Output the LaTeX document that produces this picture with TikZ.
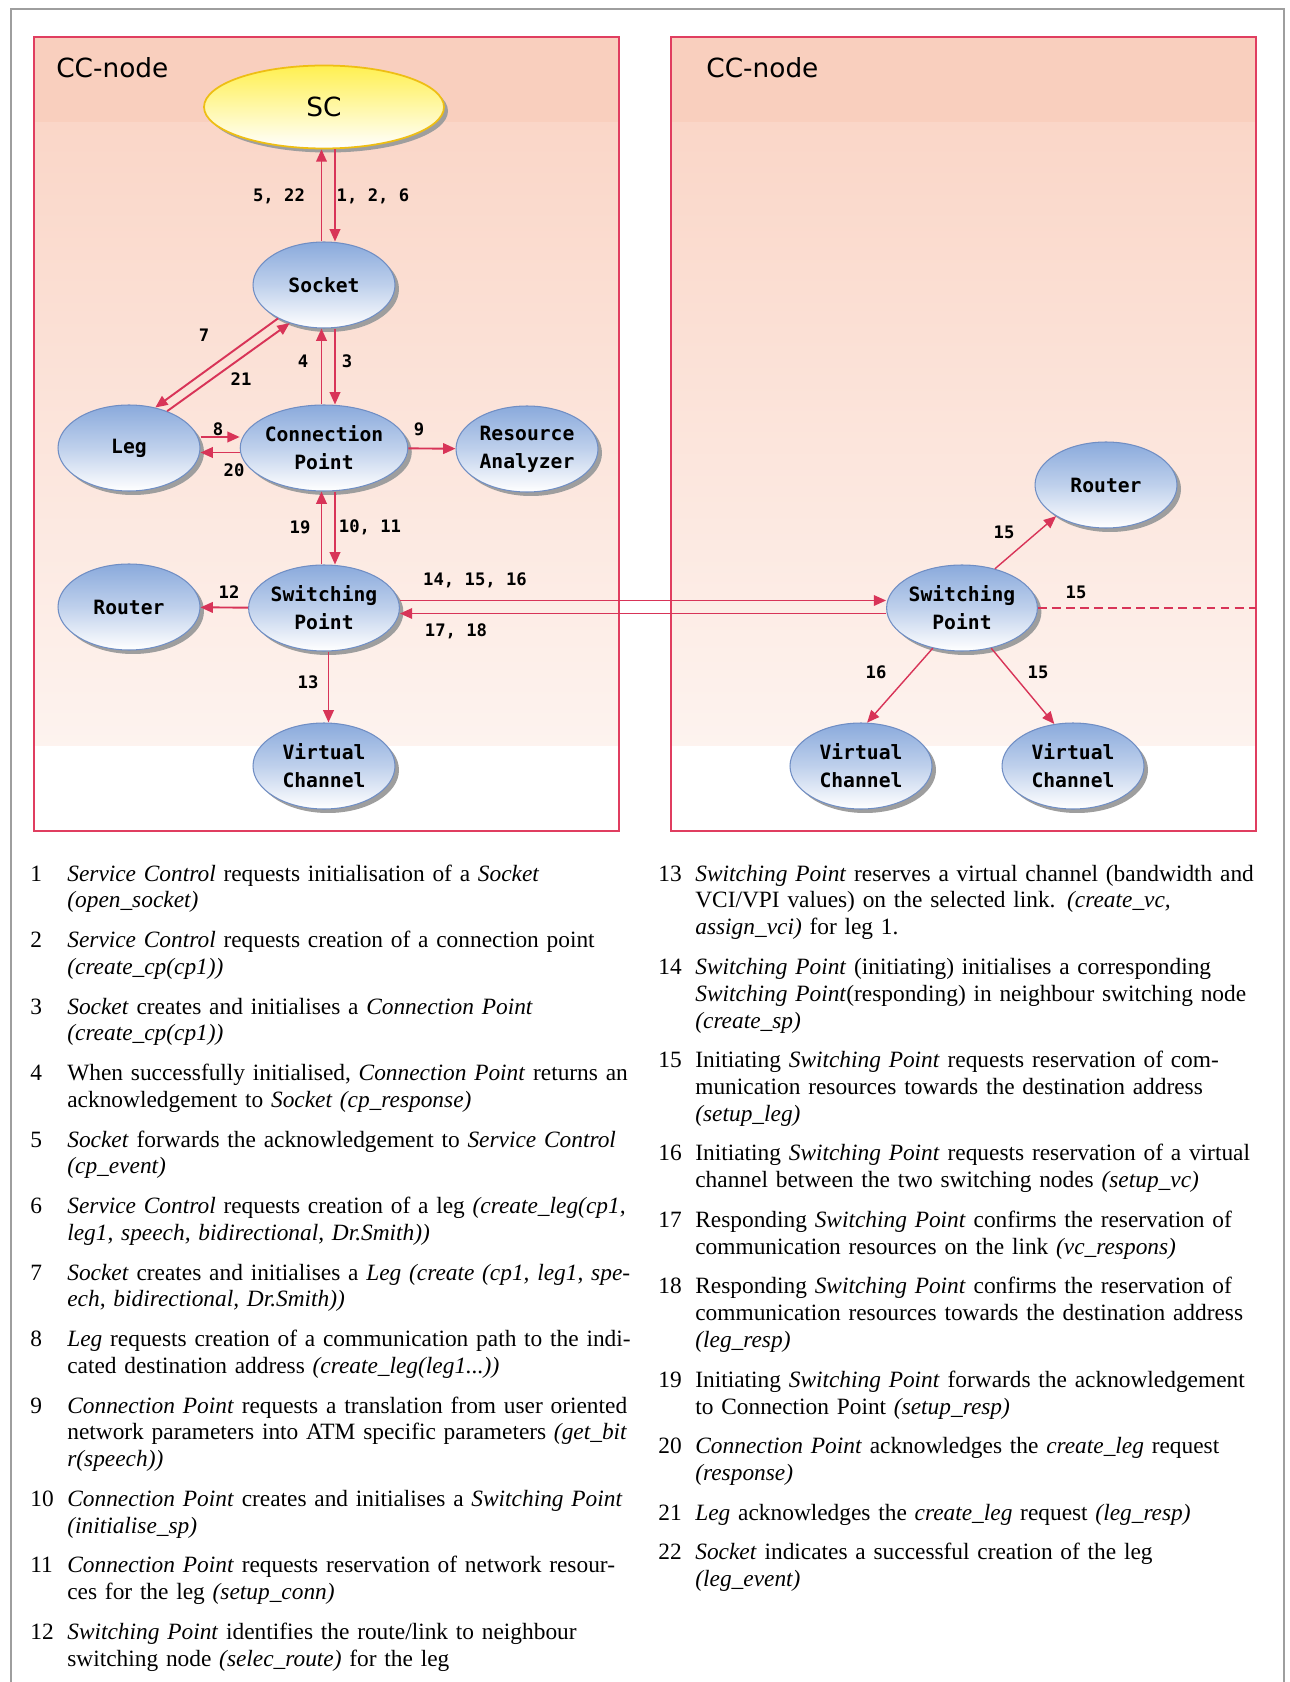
\documentclass[tikz,border=0pt]{standalone}
\usepackage{fontspec}
\setmainfont{Liberation Serif}
\newfontfamily\pixfont{DejaVu Sans Mono}
\newfontfamily\geneva{DejaVu Sans}
\usepackage{tikz}
\usetikzlibrary{arrows.meta,shapes.geometric,shadows,positioning}

\definecolor{panelpink}{RGB}{249,207,190}
\definecolor{panelred}{RGB}{224,62,96}
\definecolor{flowred}{RGB}{216,52,88}
\definecolor{objblue}{RGB}{138,170,220}
\definecolor{objedge}{RGB}{112,142,196}
\definecolor{scyellow}{RGB}{255,240,80}
\definecolor{scedge}{RGB}{238,190,20}
\definecolor{framegray}{RGB}{158,158,158}

\newcommand{\addmsg}[4]{%
  \node[msgnum] (n#1) at (#2,#3+4) {#1};
  \node[msgtext] (t#1) at (#2+37,#3+4) {#4};}

\begin{document}
\begin{tikzpicture}[x=0.02cm,y=-0.02cm,
    obj/.style={ellipse,draw=objedge,line width=0.6pt,minimum width=2.84cm,minimum height=1.72cm,
      inner sep=0pt,top color=objblue,bottom color=white,middle color=objblue!55,
      drop shadow={shadow xshift=0.08cm,shadow yshift=-0.08cm,fill=black!38,opacity=1},
      align=center,font=\pixfont\bfseries\fontsize{11.2}{16}\selectfont},
    scobj/.style={obj,minimum width=4.8cm,minimum height=1.66cm,draw=scedge,line width=1pt,
      top color=scyellow,middle color=scyellow!60,bottom color=white,
      font=\geneva\fontsize{15}{18}\selectfont},
    flow/.style={draw=flowred,line width=1.1pt,-{Triangle[length=7pt,width=6pt]}},
    num/.style={inner sep=0pt,font=\pixfont\bfseries\fontsize{9.8}{11}\selectfont},
    panellabel/.style={anchor=west,inner sep=0pt,font=\geneva\fontsize{15}{18}\selectfont},
    msgnum/.style={anchor=base west,inner sep=0pt,font=\fontsize{13.3}{15.3}\selectfont},
    msgtext/.style={anchor=base west,inner sep=0pt,text width=12.2cm,align=left,
      font=\fontsize{13.3}{15.3}\selectfont}]
  \useasboundingbox[fill=white] (0,0) rectangle (1289,1682);
  \draw[framegray,line width=1.5pt] (11,1682) -- (11,9) -- (1284,9) -- (1284,1682);

  % the two switching nodes
  \foreach \px/\lx/\pn in {34/22/l,671/35/r}{
    \fill[panelpink] (\px,37) rectangle ++(585,86);
    \shade[top color=panelpink!85,bottom color=panelpink!25] (\px,123) rectangle ++(585,622);
    \draw[panelred,line width=1.2pt] (\px,37) rectangle ++(585,794);
    \node[panellabel] (cc\pn) at (\px+\lx,68) {CC-node};
  }

  \node[scobj] (sc) at (324,107) {SC};
  \node[obj] (sock) at (324,285) {Socket};
  \node[obj] (leg) at (129,448) {Leg};
  \node[obj] (cp) at (324,448) {Connection\\Point};
  \node[obj] (ra) at (527,449) {Resource\\Analyzer};
  \node[obj] (rtl) at (129,607) {Router};
  \node[obj] (spl) at (324,608) {Switching\\Point};
  \node[obj] (vcl) at (324,766) {Virtual\\Channel};
  \node[obj] (rtr) at (1106,485) {Router};
  \node[obj] (spr) at (962,608) {Switching\\Point};
  \node[obj] (vcr1) at (861,766) {Virtual\\Channel};
  \node[obj] (vcr2) at (1073,766) {Virtual\\Channel};
  \coordinate (rim) at (1256,608);

  \draw[flow] ([xshift=-0.05cm]sock.north) -- ([xshift=-0.05cm]sc.south);
  \draw[flow] ([xshift=0.22cm]sc.south) -- ([xshift=0.22cm]sock.north);
  \draw[flow] (sock.216) -- (leg.57);
  \draw[flow] (leg.44) -- (sock.228);
  \draw[flow] ([xshift=-0.05cm]cp.north) -- ([xshift=-0.05cm]sock.south);
  \draw[flow] ([xshift=0.22cm]sock.south) -- ([xshift=0.22cm]cp.north);
  \draw[flow] ([yshift=0.22cm]leg.east) -- ([yshift=0.22cm]cp.west);
  \draw[flow] ([yshift=-0.09cm]cp.west) -- ([yshift=-0.09cm]leg.east);
  \draw[flow] (cp) -- (ra);
  \draw[flow] ([xshift=-0.05cm]spl.north) -- ([xshift=-0.05cm]cp.south);
  \draw[flow] ([xshift=0.22cm]cp.south) -- ([xshift=0.22cm]spl.north);
  \draw[flow] (spl) -- (rtl);
  \draw[flow] ([xshift=0.09cm]spl.south) -- ([xshift=0.09cm]vcl.north);
  \draw[flow] ([yshift=0.15cm]spl.east) -- ([yshift=0.15cm]spr.west);
  \draw[flow] ([yshift=-0.11cm]spr.west) -- ([yshift=-0.11cm]spl.east);
  \draw[flow,line width=0.8pt] (spr.50) -- (rtr.212);
  \draw[flow,line width=0.8pt] (spr.234) -- (vcr1.82);
  \draw[flow,line width=0.8pt] (spr.306) -- (vcr2.114);
  \draw[flowred,line width=0.8pt,dash pattern=on 5pt off 3pt] (spr.east) -- (rim);

  \node[num] (a522) at (279,196) {5, 22};
  \node[num] (a126) at (373,196) {1, 2, 6};
  \node[num] (a7) at (204,335) {7};
  \node[num] (a21) at (241,379) {21};
  \node[num] (a4) at (303,361) {4};
  \node[num] (a3) at (347,361) {3};
  \node[num] (a8) at (218,429) {8};
  \node[num] (a20) at (234,470) {20};
  \node[num] (a9) at (419,429) {9};
  \node[num] (a19) at (300,527) {19};
  \node[num] (a1011) at (370,527) {10, 11};
  \node[num] (a12) at (229,592) {12};
  \node[num] (a141516) at (475,580) {14, 15, 16};
  \node[num] (a1718) at (456,631) {17, 18};
  \node[num] (a13) at (308,682) {13};
  \node[num] (b15a) at (1004,532) {15};
  \node[num] (b15b) at (1076,592) {15};
  \node[num] (b16) at (876,672) {16};
  \node[num] (b15c) at (1038,672) {15};

  % message list
  \addmsg{1}{30}{877}{\textit{Service Control} requests initialisation of a \textit{Socket}\\\textit{(open\_socket)}}
  \addmsg{2}{30}{943.5}{\textit{Service Control} requests creation of a connection point\\\textit{(create\_cp(cp1))}}
  \addmsg{3}{30}{1010}{\textit{Socket} creates and initialises a \textit{Connection Point}\\\textit{(create\_cp(cp1))}}
  \addmsg{4}{30}{1076.5}{When successfully initialised, \textit{Connection Point} returns an\\acknowledgement to \textit{Socket (cp\_response)}}
  \addmsg{5}{30}{1143}{\textit{Socket} forwards the acknowledgement to \textit{Service Control}\\\textit{(cp\_event)}}
  \addmsg{6}{30}{1209.5}{\textit{Service Control} requests creation of a leg \textit{(create\_leg(cp1,}\\\textit{leg1, speech, bidirectional, Dr.Smith))}}
  \addmsg{7}{30}{1276}{\textit{Socket} creates and initialises a \textit{Leg (create (cp1, leg1, spe-}\\\textit{ech, bidirectional, Dr.Smith))}}
  \addmsg{8}{30}{1342.5}{\textit{Leg} requests creation of a communication path to the indi-\\cated destination address \textit{(create\_leg(leg1...))}}
  \addmsg{9}{30}{1409}{\textit{Connection Point} requests a translation from user oriented\\network parameters into ATM specific parameters \textit{(get\_bit}\\\textit{r(speech))}}
  \addmsg{10}{30}{1502.3}{\textit{Connection Point} creates and initialises a \textit{Switching Point}\\\textit{(initialise\_sp)}}
  \addmsg{11}{30}{1568.8}{\textit{Connection Point} requests reservation of network resour-\\ces for the leg \textit{(setup\_conn)}}
  \addmsg{12}{30}{1635.3}{\textit{Switching Point} identifies the route/link to neighbour\\switching node \textit{(selec\_route)} for the leg}

  \addmsg{13}{658}{877}{\textit{Switching Point} reserves a virtual channel (bandwidth and\\VCI/VPI values) on the selected link. \textit{(create\_vc,}\\\textit{assign\_vci)} for leg 1.}
  \addmsg{14}{658}{970.3}{\textit{Switching Point} (initiating) initialises a corresponding\\\textit{Switching Point}(responding) in neighbour switching node\\\textit{(create\_sp)}}
  \addmsg{15}{658}{1063.6}{Initiating \textit{Switching Point} requests reservation of com-\\munication resources towards the destination address\\\textit{(setup\_leg)}}
  \addmsg{16}{658}{1156.9}{Initiating \textit{Switching Point} requests reservation of a virtual\\channel between the two switching nodes \textit{(setup\_vc)}}
  \addmsg{17}{658}{1223.4}{Responding \textit{Switching Point} confirms the reservation of\\communication resources on the link \textit{(vc\_respons)}}
  \addmsg{18}{658}{1289.9}{Responding \textit{Switching Point} confirms the reservation of\\communication resources towards the destination address\\\textit{(leg\_resp)}}
  \addmsg{19}{658}{1383.2}{Initiating \textit{Switching Point} forwards the acknowledgement\\to Connection Point \textit{(setup\_resp)}}
  \addmsg{20}{658}{1449.7}{\textit{Connection Point} acknowledges the \textit{create\_leg} request\\\textit{(response)}}
  \addmsg{21}{658}{1516.2}{\textit{Leg} acknowledges the \textit{create\_leg} request \textit{(leg\_resp)}}
  \addmsg{22}{658}{1555.9}{\textit{Socket} indicates a successful creation of the leg\\\textit{(leg\_event)}}
\end{tikzpicture}
\end{document}
